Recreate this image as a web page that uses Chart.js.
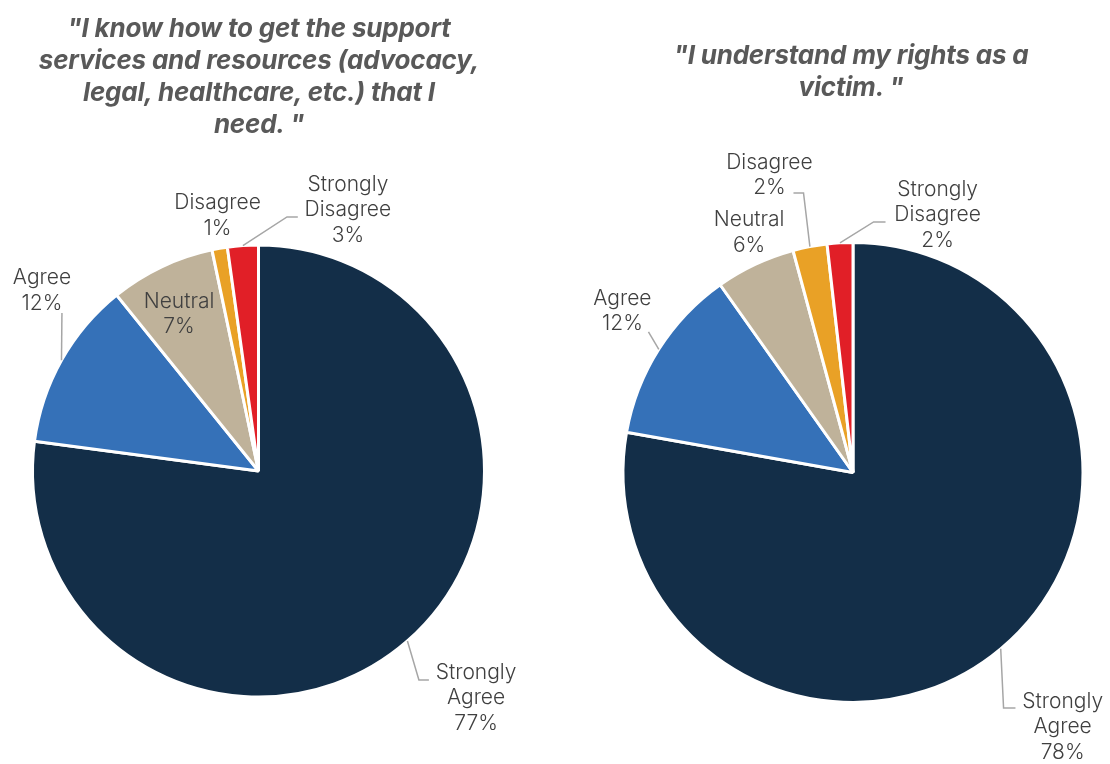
<!DOCTYPE html>
<html>
<head>
<meta charset="utf-8">
<script src="https://cdn.jsdelivr.net/npm/chart.js@4.4.0/dist/chart.umd.min.js"></script>
<style>
    html, body { margin: 0; padding: 0; background: #ffffff; }
    #page { position: relative; width: 1110px; height: 764px; overflow: hidden; }
    canvas { position: absolute; top: 0; }
    .title {
        position: absolute;
        width: 520px;
        text-align: center;
        font-family: Inter, "Open Sans", sans-serif;
        font-weight: 700;
        font-style: italic;
        font-size: 26px;
        line-height: 32px;
        color: #595959;
        letter-spacing: -0.2px;
    }
</style>
</head>
<body>
<div id="page">
    <canvas id="supportChart" width="555" height="764" style="left:0"></canvas>
    <canvas id="rightsChart" width="555" height="764" style="left:555px"></canvas>
    <div class="title" style="left:-1px; top:12px;">"I know how to get the support<br>services and resources (advocacy,<br>legal, healthcare, etc.) that I<br>need. "</div>
    <div class="title" style="left:591px; top:39px;">"I understand my rights as a<br>victim. "</div>
</div>
<script>
(function() {
    'use strict';

    // Data
    const categories = ['Strongly Agree', 'Agree', 'Neutral', 'Disagree', 'Strongly Disagree'];
    const supportValues = [77.1, 12.1, 7.5, 1.1, 2.2];
    const supportPct = ['77%', '12%', '7%', '1%', '3%'];
    const rightsValues = [77.8, 12.4, 5.6, 2.4, 1.8];
    const rightsPct = ['78%', '12%', '6%', '2%', '2%'];
    const sliceColors = ['#132E48', '#3571B8', '#BFB29A', '#E9A126', '#E11F27'];

    // Label placement: a = degrees clockwise from top, rf = fraction of radius
    const supportLayout = [
        { a: 136.2, rf: 1.391, leader: [[142.5, 1.166], [140.8, 1.193]] },
        { a: 309.8, rf: 1.247, leader: [[308.8, 1.116]] },
        { a: 333.1, rf: 0.777 },
        { a: 350.9, rf: 1.145 },
        { a: 18.9, rf: 1.221, leader: [[6.4, 1.131], [8.8, 1.137]] }
    ];
    const rightsLayout = [
        { a: 140.5, rf: 1.433, leader: [[147.4, 1.215], [145.4, 1.244]] },
        { a: 305.0, rf: 1.224, leader: [[304.5, 1.079]] },
        { a: 336.6, rf: 1.137 },
        { a: 344.3, rf: 1.343, leader: [[349.96, 1.234], [347.98, 1.243]] },
        { a: 18.2, rf: 1.178, leader: [[4.7, 1.093], [7.4, 1.098]] }
    ];

    // Draws the category / percent labels with leader lines
    const pieLabels = {
        id: 'pieLabels',
        afterDatasetsDraw(chart, args, opts) {
            const ctx = chart.ctx;
            const arcs = chart.getDatasetMeta(0).data;
            ctx.save();
            arcs.forEach((arc, i) => {
                const p = arc.getProps(['x', 'y', 'startAngle', 'endAngle', 'outerRadius'], true);
                const r = p.outerRadius;
                const polar = (a, rf) => {
                    const t = a * Math.PI / 180;
                    return [p.x + rf * r * Math.sin(t), p.y - rf * r * Math.cos(t)];
                };
                const spec = opts.layout[i];
                if (spec.leader) {
                    const mid = (p.startAngle + p.endAngle) / 2;
                    ctx.beginPath();
                    ctx.moveTo(p.x + r * Math.cos(mid), p.y + r * Math.sin(mid));
                    spec.leader.forEach(pt => {
                        const q = polar(pt[0], pt[1]);
                        ctx.lineTo(q[0], q[1]);
                    });
                    ctx.strokeStyle = '#A6A6A6';
                    ctx.lineWidth = 1.5;
                    ctx.stroke();
                }
                const lines = categories[i].split(' ').concat([opts.pct[i]]);
                const c = polar(spec.a, spec.rf);
                const lh = 25.5;
                ctx.font = '300 21px Inter, "Open Sans", sans-serif';
                ctx.fillStyle = '#404040';
                ctx.textAlign = 'center';
                ctx.textBaseline = 'middle';
                lines.forEach((ln, k) => {
                    ctx.fillText(ln, c[0], c[1] + (k - (lines.length - 1) / 2) * lh);
                });
            });
            ctx.restore();
        }
    };

    function createPie(id, values, pct, layout, padding) {
        return new Chart(document.getElementById(id), {
            type: 'pie',
            data: {
                labels: categories,
                datasets: [{
                    data: values,
                    backgroundColor: sliceColors,
                    borderColor: '#ffffff',
                    borderWidth: 3
                }]
            },
            options: {
                responsive: false,
                animation: false,
                layout: { padding: padding },
                plugins: {
                    legend: { display: false },
                    tooltip: { enabled: false },
                    pieLabels: { layout: layout, pct: pct }
                }
            },
            plugins: [pieLabels]
        });
    }

    createPie('supportChart', supportValues, supportPct, supportLayout,
        { left: 31, right: 69, top: 243.5, bottom: 65.5 });
    createPie('rightsChart', rightsValues, rightsPct, rightsLayout,
        { left: 66, right: 25, top: 241, bottom: 60 });
})();
</script>
</body>
</html>
